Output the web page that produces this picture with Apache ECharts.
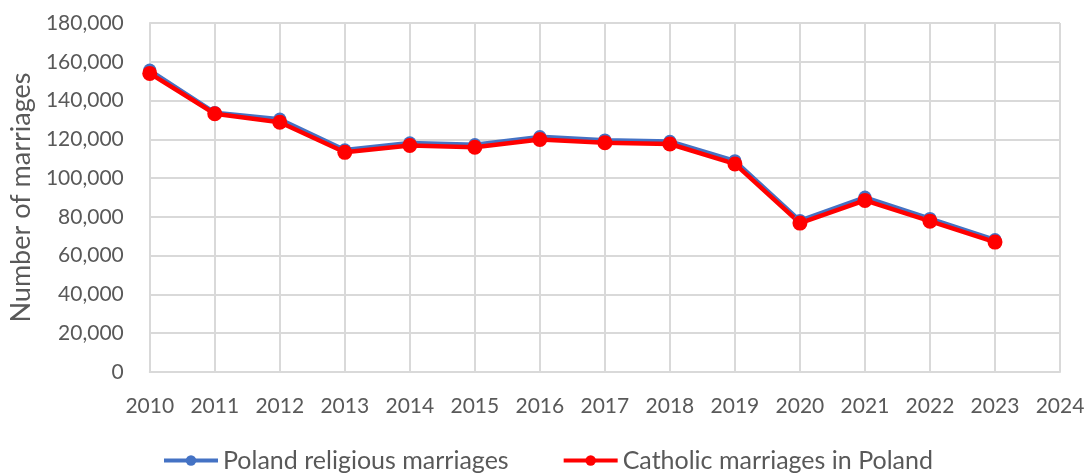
<!DOCTYPE html>
<html>
<head>
<meta charset="utf-8">
<script src="https://cdn.jsdelivr.net/npm/echarts@6/dist/echarts.min.js"></script>
<style>
  html, body { margin: 0; padding: 0; background: #fff; }
  #chart { width: 1088px; height: 476px; }
</style>
</head>
<body>
<div id="chart"></div>
<script>
// years on the x axis
const years = [2010, 2011, 2012, 2013, 2014, 2015, 2016, 2017, 2018, 2019, 2020, 2021, 2022, 2023];
const religious = [155700, 133900, 130500, 114600, 118200, 117300, 121400, 119700, 119000, 109000, 78200, 90200, 79200, 68300];
const catholic = [154000, 133200, 128800, 113300, 116800, 115900, 119900, 118300, 117600, 107300, 76800, 88500, 77800, 67000];

const seriesNames = ["Poland religious marriages", "Catholic marriages in Poland"];
const textColor = "#595959";
const gridColor = "#d9d9d9";
const fontFamily = "Lato, 'Open Sans', sans-serif";

const chart = echarts.init(document.getElementById("chart"));

const toPairs = (vals) => years.map((y, i) => [y, vals[i]]);

chart.setOption({
  animation: false,
  textStyle: { fontFamily: fontFamily },
  grid: { left: 148, right: 28, top: 23, bottom: 104, containLabel: false },
  legend: {
    top: 448,
    left: 162,
    padding: 0,
    itemWidth: 54,
    itemHeight: 13,
    itemGap: 53,
    lineStyle: { width: 4 },
    textStyle: { color: textColor, fontSize: 25, fontFamily: fontFamily },
    data: seriesNames,
  },
  xAxis: {
    type: "value",
    min: 2010,
    max: 2024,
    interval: 1,
    axisLine: { show: true, lineStyle: { color: gridColor, width: 2 } },
    axisTick: { show: false },
    axisLabel: { color: textColor, fontSize: 21, margin: 24, formatter: (v) => String(v) },
    splitLine: { show: true, lineStyle: { color: gridColor, width: 2 } },
  },
  yAxis: {
    type: "value",
    min: 0,
    max: 180000,
    interval: 20000,
    name: "Number of marriages",
    nameLocation: "middle",
    nameGap: 111,
    nameTextStyle: { color: textColor, fontSize: 27, fontFamily: fontFamily },
    axisLine: { show: true, lineStyle: { color: gridColor, width: 2 } },
    axisTick: { show: false },
    axisLabel: {
      color: textColor,
      fontSize: 21,
      margin: 26,
      formatter: (v) => v.toLocaleString("en-US"),
    },
    splitLine: { show: true, lineStyle: { color: gridColor, width: 2 } },
  },
  series: [
    {
      name: seriesNames[0],
      type: "line",
      data: toPairs(religious),
      symbol: "circle",
      symbolSize: 13,
      lineStyle: { color: "#4472C4", width: 4 },
      itemStyle: { color: "#4472C4" },
    },
    {
      name: seriesNames[1],
      type: "line",
      data: toPairs(catholic),
      symbol: "circle",
      symbolSize: 15,
      lineStyle: { color: "#FF0000", width: 4.5 },
      itemStyle: { color: "#FF0000" },
    },
  ],
});
</script>
</body>
</html>
